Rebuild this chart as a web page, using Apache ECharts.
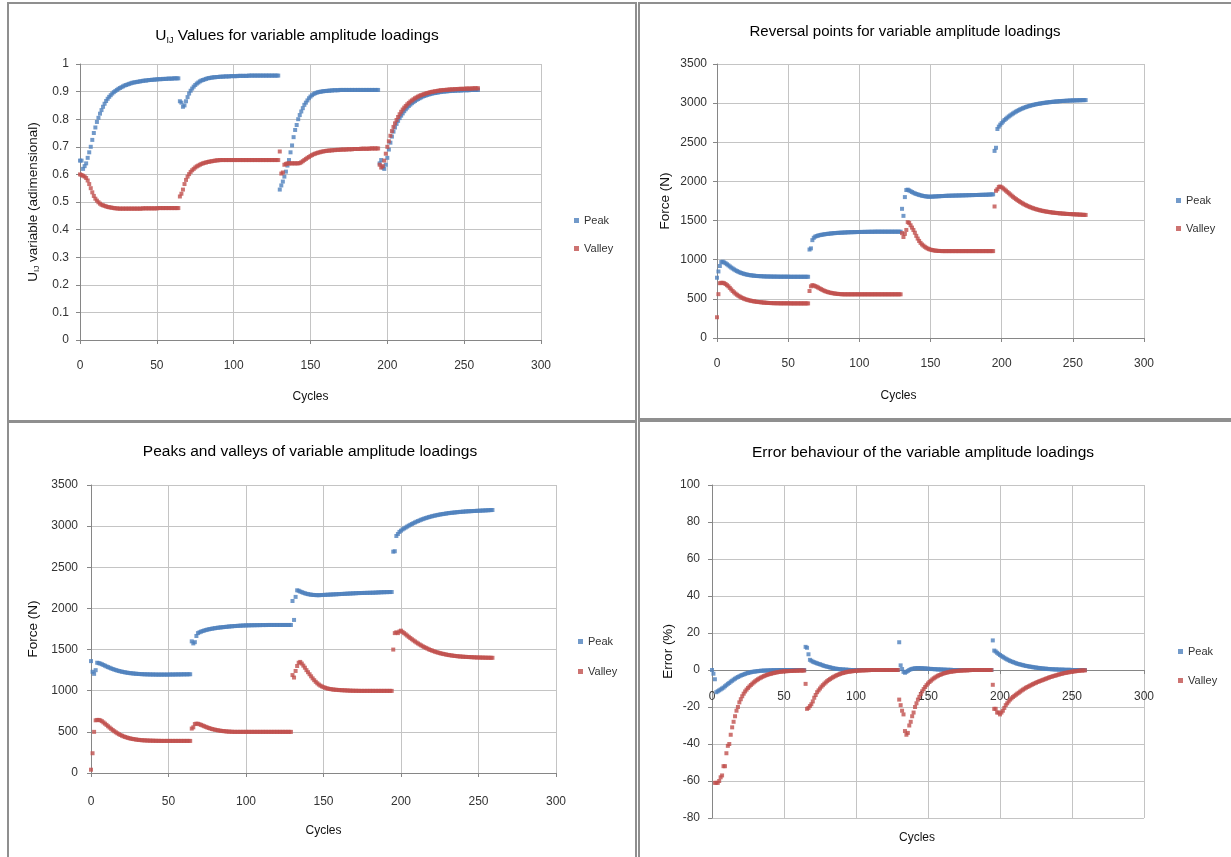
<!DOCTYPE html>
<html>
<head>
<meta charset="UTF-8">
<title>Variable amplitude loadings</title>
<script src="https://cdn.jsdelivr.net/npm/echarts@6/dist/echarts.min.js"></script>
<style>
html, body { margin: 0; padding: 0; background: #fff; }
#main { width: 1231px; height: 857px; }
</style>
</head>
<body>
<div id="main"></div>
<script>
// every block has 65 cycles, these are the first cycle of each block
var blockStart = [0, 65, 130, 195];
var cycleTicks = [0, 300, 50];
var uTicks = [0, 1, 0.1];
var forceTicks = [0, 3500, 500];
var errTicks = [-80, 100, 20];

// U_IJ values
var uPeak = [
  [0.65,0.65,0.62,0.63,0.64,0.66,0.68,0.70,0.725,0.75,0.77,0.79,0.805,0.82,0.833,0.845,0.856,0.866,0.874,0.881,0.887,0.893,0.898,0.902,0.906,0.91,0.913,0.916,0.919,0.922,0.924,0.926,0.928,0.93,0.932,0.933,0.934,0.935,0.936,0.937,0.938,0.939,0.94,0.94,0.941,0.942,0.942,0.943,0.943,0.944,0.944,0.945,0.945,0.945,0.946,0.946,0.946,0.947,0.947,0.947,0.947,0.948,0.948,0.948,0.948],
  [0.865,0.86,0.845,0.85,0.865,0.88,0.893,0.903,0.911,0.918,0.924,0.929,0.933,0.937,0.94,0.942,0.944,0.946,0.948,0.949,0.95,0.951,0.952,0.952,0.953,0.953,0.954,0.954,0.954,0.955,0.955,0.955,0.955,0.956,0.956,0.956,0.956,0.956,0.957,0.957,0.957,0.957,0.957,0.957,0.957,0.958,0.958,0.958,0.958,0.958,0.958,0.958,0.958,0.958,0.958,0.958,0.958,0.958,0.958,0.958,0.958,0.958,0.958,0.958,0.958],
  [0.545,0.56,0.574,0.592,0.61,0.632,0.652,0.68,0.705,0.735,0.761,0.779,0.80,0.815,0.828,0.84,0.852,0.86,0.868,0.876,0.882,0.887,0.891,0.894,0.896,0.898,0.899,0.90,0.901,0.902,0.902,0.903,0.903,0.904,0.904,0.905,0.905,0.905,0.905,0.906,0.906,0.906,0.906,0.906,0.906,0.906,0.906,0.906,0.906,0.906,0.906,0.906,0.906,0.906,0.906,0.906,0.906,0.906,0.906,0.906,0.906,0.906,0.906,0.906,0.906],
  [0.64,0.652,0.625,0.62,0.635,0.66,0.69,0.715,0.737,0.755,0.77,0.783,0.794,0.804,0.813,0.821,0.829,0.836,0.842,0.848,0.853,0.858,0.862,0.866,0.87,0.873,0.876,0.879,0.882,0.884,0.886,0.888,0.89,0.891,0.893,0.894,0.895,0.896,0.897,0.898,0.899,0.9,0.9,0.901,0.901,0.902,0.902,0.903,0.903,0.903,0.904,0.904,0.904,0.904,0.905,0.905,0.905,0.905,0.905,0.906,0.906,0.906,0.906,0.906,0.906]
];
var uValley = [
  [0.60,0.598,0.595,0.592,0.587,0.578,0.565,0.55,0.535,0.522,0.512,0.505,0.499,0.494,0.49,0.488,0.486,0.484,0.482,0.481,0.48,0.479,0.478,0.477,0.477,0.476,0.476,0.476,0.476,0.476,0.476,0.476,0.476,0.476,0.476,0.476,0.476,0.476,0.476,0.476,0.476,0.477,0.477,0.477,0.477,0.477,0.477,0.477,0.477,0.477,0.477,0.478,0.478,0.478,0.478,0.478,0.478,0.478,0.478,0.478,0.478,0.478,0.478,0.478,0.478],
  [0.52,0.53,0.545,0.565,0.58,0.592,0.601,0.609,0.615,0.62,0.625,0.629,0.632,0.635,0.638,0.64,0.642,0.643,0.645,0.646,0.647,0.648,0.649,0.65,0.651,0.651,0.652,0.652,0.652,0.652,0.652,0.652,0.652,0.652,0.652,0.652,0.652,0.652,0.652,0.652,0.652,0.652,0.652,0.652,0.652,0.652,0.652,0.652,0.652,0.652,0.652,0.652,0.652,0.652,0.652,0.652,0.652,0.652,0.652,0.652,0.652,0.652,0.652,0.652,0.652],
  [0.683,0.603,0.607,0.635,0.638,0.64,0.64,0.64,0.64,0.64,0.64,0.64,0.64,0.641,0.644,0.648,0.652,0.656,0.66,0.663,0.667,0.67,0.673,0.675,0.677,0.679,0.68,0.682,0.683,0.684,0.685,0.686,0.686,0.687,0.687,0.688,0.688,0.689,0.689,0.689,0.69,0.69,0.69,0.69,0.691,0.691,0.691,0.691,0.692,0.692,0.692,0.692,0.692,0.693,0.693,0.693,0.693,0.693,0.693,0.694,0.694,0.694,0.694,0.694,0.694],
  [0.635,0.625,0.63,0.65,0.675,0.70,0.72,0.74,0.757,0.772,0.785,0.797,0.808,0.818,0.827,0.835,0.842,0.848,0.854,0.859,0.864,0.868,0.872,0.876,0.879,0.882,0.885,0.887,0.889,0.891,0.893,0.895,0.896,0.898,0.899,0.9,0.901,0.902,0.903,0.904,0.905,0.905,0.906,0.906,0.907,0.907,0.908,0.908,0.908,0.909,0.909,0.909,0.91,0.91,0.91,0.91,0.911,0.911,0.911,0.911,0.911,0.912,0.912,0.912,0.912]
];

// reversal points (N)
var revPeak = [
  [770,850,920,970,975,965,955,942,928,914,900,888,876,865,855,846,838,831,825,819,814,810,806,803,800,798,796,794,792,791,790,789,788,787,786,786,785,785,785,784,784,784,784,783,783,783,783,783,783,783,783,782,782,782,782,782,782,782,782,782,782,782,782,782,782],
  [1130,1145,1250,1280,1295,1302,1308,1313,1317,1320,1323,1326,1329,1331,1333,1335,1337,1339,1340,1342,1343,1344,1345,1346,1347,1348,1349,1350,1351,1351,1352,1352,1353,1353,1354,1354,1355,1355,1355,1356,1356,1356,1357,1357,1357,1357,1358,1358,1358,1358,1358,1358,1358,1358,1358,1358,1358,1358,1358,1358,1358,1358,1358,1358,1358],
  [1650,1560,1800,1890,1895,1885,1875,1865,1855,1847,1840,1834,1828,1823,1818,1814,1811,1808,1806,1805,1805,1806,1807,1808,1809,1810,1811,1812,1813,1814,1815,1816,1817,1817,1818,1818,1819,1819,1820,1820,1821,1821,1822,1822,1823,1823,1824,1824,1825,1825,1826,1826,1827,1827,1828,1828,1829,1829,1830,1830,1831,1832,1833,1834,1835],
  [2390,2430,2670,2700,2725,2745,2765,2785,2800,2815,2830,2843,2856,2868,2880,2891,2901,2911,2920,2928,2936,2943,2950,2956,2962,2967,2972,2977,2981,2985,2989,2992,2995,2998,3001,3004,3006,3009,3011,3013,3015,3017,3019,3021,3022,3024,3025,3027,3028,3029,3030,3031,3032,3033,3034,3035,3035,3036,3036,3037,3037,3038,3038,3039,3039]
];
var revValley = [
  [265,560,700,705,705,700,690,675,660,640,620,600,583,567,553,540,529,519,510,502,495,489,484,479,475,471,468,465,462,460,458,456,454,452,451,449,448,447,446,445,445,444,444,444,443,443,443,443,443,443,443,443,442,442,442,442,442,442,442,442,442,442,442,442,442],
  [600,660,675,670,662,655,645,635,625,615,606,598,592,586,581,577,573,570,567,565,563,561,560,559,558,558,558,558,558,558,558,558,558,558,558,558,558,558,558,558,558,558,558,558,558,558,558,558,558,558,558,558,558,558,558,558,558,558,558,558,558,558,558,558,558],
  [1340,1290,1330,1380,1480,1470,1440,1410,1380,1345,1305,1270,1240,1215,1195,1180,1165,1153,1143,1135,1129,1124,1120,1117,1115,1113,1112,1111,1110,1110,1110,1110,1110,1110,1110,1110,1110,1110,1110,1110,1110,1110,1110,1110,1110,1110,1110,1110,1110,1110,1110,1110,1110,1110,1110,1110,1110,1110,1110,1110,1110,1110,1110,1110,1110],
  [1680,1880,1900,1930,1935,1925,1912,1897,1882,1866,1850,1834,1818,1803,1789,1775,1762,1750,1738,1727,1716,1706,1697,1688,1680,1672,1665,1658,1652,1646,1641,1636,1631,1627,1623,1619,1616,1613,1610,1607,1604,1602,1600,1598,1596,1594,1592,1591,1589,1588,1586,1585,1584,1583,1582,1581,1580,1579,1578,1577,1576,1575,1574,1573,1572]
];

// peaks and valleys (N)
var pvPeak = [
  [1360,1230,1205,1250,1340,1335,1330,1322,1313,1304,1295,1287,1279,1271,1264,1257,1251,1245,1240,1235,1231,1227,1223,1220,1217,1214,1212,1210,1208,1206,1205,1203,1202,1201,1200,1199,1199,1198,1198,1197,1197,1197,1196,1196,1196,1196,1196,1196,1196,1196,1196,1197,1197,1197,1197,1198,1198,1198,1198,1199,1199,1199,1199,1200,1200],
  [1600,1575,1590,1665,1700,1710,1718,1725,1731,1737,1742,1746,1750,1754,1757,1760,1763,1766,1768,1770,1772,1774,1776,1778,1780,1782,1783,1785,1786,1787,1789,1790,1791,1792,1793,1794,1794,1795,1795,1796,1796,1796,1797,1797,1797,1798,1798,1798,1798,1799,1799,1799,1799,1799,1799,1799,1799,1799,1799,1799,1799,1799,1799,1799,1799],
  [2090,1860,2140,2220,2215,2205,2198,2190,2184,2178,2174,2170,2167,2165,2163,2162,2161,2161,2162,2163,2164,2165,2166,2167,2168,2169,2170,2171,2172,2173,2174,2175,2176,2177,2178,2179,2180,2181,2182,2183,2184,2185,2186,2187,2187,2188,2188,2189,2189,2190,2190,2191,2191,2192,2193,2194,2195,2196,2197,2197,2198,2198,2199,2199,2200],
  [2690,2695,2880,2905,2930,2945,2960,2972,2983,2995,3006,3016,3026,3036,3045,3054,3062,3070,3078,3085,3092,3098,3104,3110,3115,3120,3125,3129,3133,3137,3141,3144,3147,3150,3153,3156,3159,3161,3163,3165,3167,3169,3171,3173,3174,3176,3177,3179,3180,3181,3182,3183,3184,3185,3186,3187,3188,3189,3190,3191,3192,3193,3194,3195,3196]
];
var pvValley = [
  [40,240,500,640,645,645,640,630,615,600,585,568,552,537,522,508,495,483,472,462,453,445,438,432,426,421,417,413,410,407,404,402,400,398,397,396,395,394,393,393,392,392,391,391,391,390,390,390,390,390,390,390,390,390,390,390,390,390,390,390,390,390,390,390,390],
  [540,555,595,600,598,592,585,577,569,561,554,547,541,535,530,526,522,518,515,512,510,508,506,504,503,502,501,500,500,500,500,500,500,500,500,500,500,500,500,500,500,500,500,500,500,500,500,500,500,500,500,500,500,500,500,500,500,500,500,500,500,500,500,500,500],
  [1190,1160,1240,1300,1340,1350,1330,1305,1280,1250,1225,1200,1175,1150,1128,1108,1090,1075,1062,1052,1043,1036,1030,1025,1021,1018,1015,1013,1011,1010,1008,1007,1006,1005,1004,1003,1002,1001,1000,1000,999,999,999,998,998,998,998,998,998,998,998,998,998,998,998,998,998,998,998,998,998,998,998,998,998],
  [1500,1700,1710,1700,1720,1730,1715,1700,1685,1670,1655,1640,1626,1612,1599,1586,1574,1562,1551,1540,1530,1521,1512,1503,1495,1488,1481,1474,1468,1463,1457,1452,1448,1444,1440,1436,1433,1430,1427,1425,1422,1420,1418,1416,1415,1413,1412,1411,1410,1409,1408,1407,1406,1405,1404,1404,1403,1403,1402,1402,1401,1401,1401,1400,1400]
];

// error (%)
var errPeak = [
  [0,-2,-5,-12,-11.5,-11,-10.5,-10,-9.5,-8.8,-8.2,-7.5,-7,-6.3,-5.8,-5.2,-4.7,-4.2,-3.8,-3.4,-3,-2.7,-2.4,-2.1,-1.8,-1.6,-1.4,-1.2,-1,-0.9,-0.8,-0.7,-0.6,-0.5,-0.4,-0.4,-0.3,-0.3,-0.3,-0.2,-0.2,-0.2,-0.1,-0.1,-0.1,-0.1,0,0,0,0,0,0,0,0,0,0,0,0,0,0,0,0,0,0,0],
  [12.5,12,8.5,5.5,5,4.5,4.2,3.9,3.6,3.3,3.1,2.8,2.5,2.2,2,1.8,1.6,1.4,1.2,1,0.8,0.7,0.6,0.5,0.4,0.3,0.3,0.2,0.2,0.1,0.1,0,0,0,0,0,0,0,0,0,0,0,0,0,0,0,0,0,0,0,0,0,0,0,0,0,0,0,0,0,0,0,0,0,0],
  [15,2.5,0.5,-1,-1.5,-1,-0.5,0,0.4,0.6,0.8,0.9,1,1,1,1,0.9,0.9,0.8,0.8,0.7,0.6,0.6,0.5,0.5,0.4,0.4,0.3,0.3,0.3,0.2,0.2,0.2,0.1,0.1,0.1,0.1,0,0,0,0,0,0,0,0,0,0,0,0,0,0,0,0,0,0,0,0,0,0,0,0,0,0,0,0],
  [16,10.5,10,9.3,8.7,8.1,7.6,7.1,6.6,6.1,5.7,5.3,4.9,4.6,4.3,4,3.7,3.4,3.2,3,2.8,2.6,2.4,2.2,2.1,1.9,1.8,1.7,1.5,1.4,1.3,1.2,1.1,1,0.9,0.8,0.7,0.7,0.6,0.5,0.5,0.4,0.4,0.3,0.3,0.3,0.2,0.2,0.2,0.2,0.1,0.1,0.1,0.1,0.1,0,0,0,0,0,0,0,0,0,0]
];
var errValley = [
  [null,null,-61,-61,-61,-60,-58,-57,-52,-52,-45,-41,-40,-35,-31,-28,-25,-22,-20,-17.5,-15.8,-14.2,-12.8,-11.6,-10.6,-9.7,-8.9,-8.1,-7.4,-6.7,-6.1,-5.5,-5,-4.5,-4.1,-3.7,-3.3,-3,-2.7,-2.4,-2.2,-2,-1.8,-1.6,-1.4,-1.3,-1.1,-1,-0.9,-0.8,-0.7,-0.7,-0.6,-0.6,-0.5,-0.5,-0.5,-0.4,-0.4,-0.4,-0.3,-0.3,-0.3,-0.3,-0.3],
  [-7.5,-21,-20.5,-19.5,-18.5,-17,-15,-13.5,-12,-11,-10,-9,-8.2,-7.4,-6.7,-6,-5.4,-4.9,-4.4,-3.9,-3.5,-3.1,-2.7,-2.4,-2.1,-1.8,-1.6,-1.4,-1.2,-1,-0.9,-0.8,-0.7,-0.6,-0.5,-0.4,-0.4,-0.3,-0.3,-0.2,-0.2,-0.2,-0.1,-0.1,-0.1,0,0,0,0,0,0,0,0,0,0,0,0,0,0,0,0,0,0,0,0],
  [-16,-19,-22,-24,-33,-35,-34,-30,-28,-25,-23,-20,-18,-16,-14.5,-13,-11.5,-10.3,-9.2,-8.2,-7.3,-6.5,-5.8,-5.1,-4.5,-4,-3.5,-3.1,-2.7,-2.4,-2.1,-1.8,-1.6,-1.4,-1.2,-1,-0.9,-0.8,-0.7,-0.6,-0.5,-0.4,-0.4,-0.3,-0.3,-0.2,-0.2,-0.2,-0.1,-0.1,0,0,0,0,0,0,0,0,0,0,0,0,0,0,0],
  [-8,-21,-21,-23,-23,-24,-23,-22,-20.5,-19,-18,-17,-16,-15.3,-14.6,-14,-13.4,-12.8,-12.3,-11.7,-11.1,-10.6,-10.1,-9.6,-9.2,-8.8,-8.4,-8,-7.6,-7.2,-6.9,-6.5,-6.2,-5.9,-5.6,-5.3,-5,-4.7,-4.4,-4.1,-3.8,-3.6,-3.3,-3.1,-2.9,-2.6,-2.4,-2.2,-2,-1.8,-1.6,-1.5,-1.3,-1.2,-1,-0.9,-0.8,-0.7,-0.6,-0.5,-0.4,-0.3,-0.3,-0.2,-0.2]
];

var FONT = 'Liberation Sans, Arial, sans-serif';
var BLUE = '#4f81bd', RED = '#c0504d';

// turn block lists into [cycle, value] pairs
function pts(blocks) {
  var out = [];
  blocks.forEach(function (b, k) {
    b.forEach(function (v, i) {
      if (v !== null) out.push([blockStart[k] + i, v]);
    });
  });
  return out;
}

function plain(v) { return String(v); }

function xAxisFor(idx, opts) {
  var ax = {
    type: 'value', gridIndex: idx,
    min: cycleTicks[0], max: cycleTicks[1], interval: cycleTicks[2],
    offset: opts.offset || 0,
    axisLine: { show: true, onZero: false, lineStyle: { color: '#868686', width: 1 } },
    axisTick: { show: true, inside: false, length: 4, lineStyle: { color: '#868686' } },
    axisLabel: { color: '#333', fontSize: 12, fontFamily: FONT, margin: opts.margin || 20, formatter: plain },
    splitLine: { show: true, lineStyle: { color: '#c4c4c4', width: 1 } }
  };
  if (opts.gap) {
    ax.name = 'Cycles';
    ax.nameLocation = 'middle';
    ax.nameGap = opts.gap;
    ax.nameTextStyle = { color: '#111', fontSize: 12, fontFamily: FONT, padding: opts.padding || 0 };
  }
  return ax;
}

function yAxisFor(idx, ticks, name, gap, margin, rich) {
  return {
    type: 'value', gridIndex: idx,
    min: ticks[0], max: ticks[1], interval: ticks[2],
    name: name, nameLocation: 'middle', nameGap: gap, nameRotate: 90,
    nameTextStyle: { color: '#111', fontSize: 13.5, fontFamily: FONT, rich: rich || {} },
    axisLine: { show: true, onZero: false, lineStyle: { color: '#868686', width: 1 } },
    axisTick: { show: true, inside: false, length: 4, lineStyle: { color: '#868686' } },
    axisLabel: { color: '#333', fontSize: 12, fontFamily: FONT, margin: margin, formatter: plain },
    splitLine: { show: true, lineStyle: { color: '#c4c4c4', width: 1 } }
  };
}

function scatter(idx, name, color, blocks) {
  return {
    type: 'scatter', name: name, xAxisIndex: idx, yAxisIndex: idx,
    symbol: 'rect', symbolSize: 4, itemStyle: { color: color },
    data: pts(blocks), silent: true
  };
}

function legendAt(left, top, gap) {
  return {
    orient: 'vertical', left: left, top: top, padding: 0, itemGap: gap,
    itemWidth: 5, itemHeight: 5, icon: 'rect',
    data: ['Peak', 'Valley'],
    textStyle: { fontSize: 11, color: '#333', fontFamily: FONT, lineHeight: 13 }
  };
}

function titleStyle(size) {
  return { fontSize: size, fontWeight: 'normal', color: '#000', fontFamily: FONT };
}

var chart = echarts.init(document.getElementById('main'));
chart.setOption({
  animation: false,
  backgroundColor: '#fff',
  title: [
    { text: 'U{s|IJ} Values for variable amplitude loadings', left: 297, top: 27, padding: 0, textAlign: 'center',
      textStyle: Object.assign(titleStyle(15.5), {
        rich: { s: { fontSize: 9, fontFamily: FONT, color: '#000', padding: [9, 0, 0, 0] } } }) },
    { text: 'Reversal points for variable amplitude loadings', left: 905, top: 24, padding: 0, textAlign: 'center',
      textStyle: titleStyle(15) },
    { text: 'Peaks and valleys of variable amplitude loadings', left: 310, top: 444, padding: 0, textAlign: 'center',
      textStyle: titleStyle(15.5) },
    { text: 'Error behaviour of the variable amplitude loadings', left: 923, top: 445, padding: 0, textAlign: 'center',
      textStyle: titleStyle(15.5) },
    { text: 'Cycles', left: 917, top: 832, padding: 0, textAlign: 'center',
      textStyle: { fontSize: 12, fontWeight: 'normal', color: '#111', fontFamily: FONT } }
  ],
  legend: [
    legendAt(574, 214, 15),
    legendAt(1176, 194, 15),
    legendAt(578, 635, 17),
    legendAt(1178, 645, 16)
  ],
  graphic: [
    { type: 'rect', shape: { x: 8, y: 3, width: 628, height: 418 }, style: { fill: null, stroke: '#8f8f8f', lineWidth: 2 }, silent: true },
    { type: 'rect', shape: { x: 639, y: 3, width: 600, height: 416 }, style: { fill: null, stroke: '#8f8f8f', lineWidth: 2 }, silent: true },
    { type: 'rect', shape: { x: 8, y: 422, width: 628, height: 450 }, style: { fill: null, stroke: '#8f8f8f', lineWidth: 2 }, silent: true },
    { type: 'rect', shape: { x: 639, y: 421, width: 600, height: 450 }, style: { fill: null, stroke: '#8f8f8f', lineWidth: 2 }, silent: true }
  ],
  grid: [
    { left: 80, top: 64, width: 461, height: 276, outerBoundsMode: 'none' },
    { left: 717, top: 64, width: 427, height: 274, outerBoundsMode: 'none' },
    { left: 91, top: 485, width: 465, height: 288, outerBoundsMode: 'none' },
    { left: 712, top: 485, width: 432, height: 333, outerBoundsMode: 'none' }
  ],
  xAxis: [
    xAxisFor(0, { gap: 51 }),
    xAxisFor(1, { gap: 52, padding: [0, 64, 0, 0] }),
    xAxisFor(2, { gap: 52, margin: 23 }),
    // the error chart draws its cycle axis on the zero line
    xAxisFor(3, { offset: -148, margin: 21 })
  ],
  yAxis: [
    yAxisFor(0, uTicks, 'U{s|IJ} variable (adimensional)', 39, 11,
      { s: { fontSize: 8, fontFamily: FONT, color: '#111', padding: [7, 0, 0, 0] } }),
    yAxisFor(1, forceTicks, 'Force (N)', 45, 10),
    yAxisFor(2, forceTicks, 'Force (N)', 51, 13),
    yAxisFor(3, errTicks, 'Error (%)', 37, 12)
  ],
  series: [
    scatter(0, 'Peak', BLUE, uPeak),
    scatter(0, 'Valley', RED, uValley),
    scatter(1, 'Peak', BLUE, revPeak),
    scatter(1, 'Valley', RED, revValley),
    scatter(2, 'Peak', BLUE, pvPeak),
    scatter(2, 'Valley', RED, pvValley),
    scatter(3, 'Peak', BLUE, errPeak),
    scatter(3, 'Valley', RED, errValley)
  ]
});
</script>
</body>
</html>
